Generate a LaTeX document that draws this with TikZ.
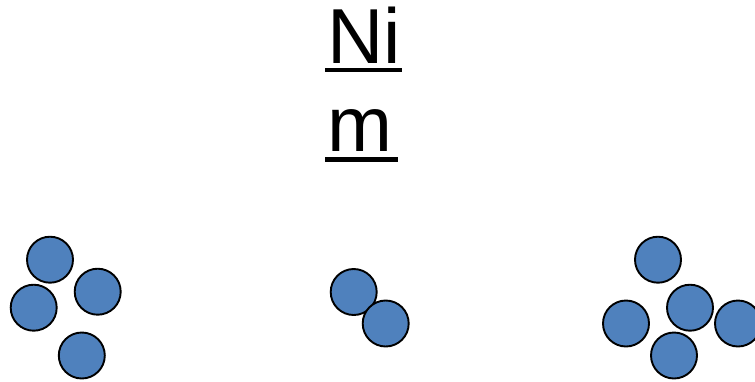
\documentclass[tikz,border=0pt]{standalone}
\usepackage{fontspec}
\setmainfont{Liberation Sans}
\definecolor{ballblue}{HTML}{4F81BD}
\begin{document}
\begin{tikzpicture}[x=1pt,y=-1pt,
  ball/.style={circle,draw=black,fill=ballblue,line width=1.9pt,minimum size=46pt,inner sep=0pt},
  bigtext/.style={inner sep=0pt,anchor=base west,font=\fontsize{78}{88}\selectfont},
  uline/.style={fill=black}]
\useasboundingbox (0,0) rectangle (755,381);
% title
\node[bigtext] (t1) at (327,63.3) {Ni};
\node[bigtext] (t2) at (327,151.7) {m};
\fill[uline] (325,68.3) rectangle (401.7,72.3);
\fill[uline] (325,157.3) rectangle (397.7,161.5);
% left group
\node[ball] (l1) at (50,259.7) {};
\node[ball] (l2) at (97.7,291.7) {};
\node[ball] (l3) at (33.7,307.7) {};
\node[ball] (l4) at (81.8,355.5) {};
% middle group
\node[ball] (m1) at (353.7,292) {};
\node[ball] (m2) at (385.7,323.5) {};
% right group
\node[ball] (r1) at (658,259.7) {};
\node[ball] (r2) at (690,307.7) {};
\node[ball] (r3) at (626,323.5) {};
\node[ball] (r4) at (738,323.5) {};
\node[ball] (r5) at (674,355.5) {};
\end{tikzpicture}
\end{document}
